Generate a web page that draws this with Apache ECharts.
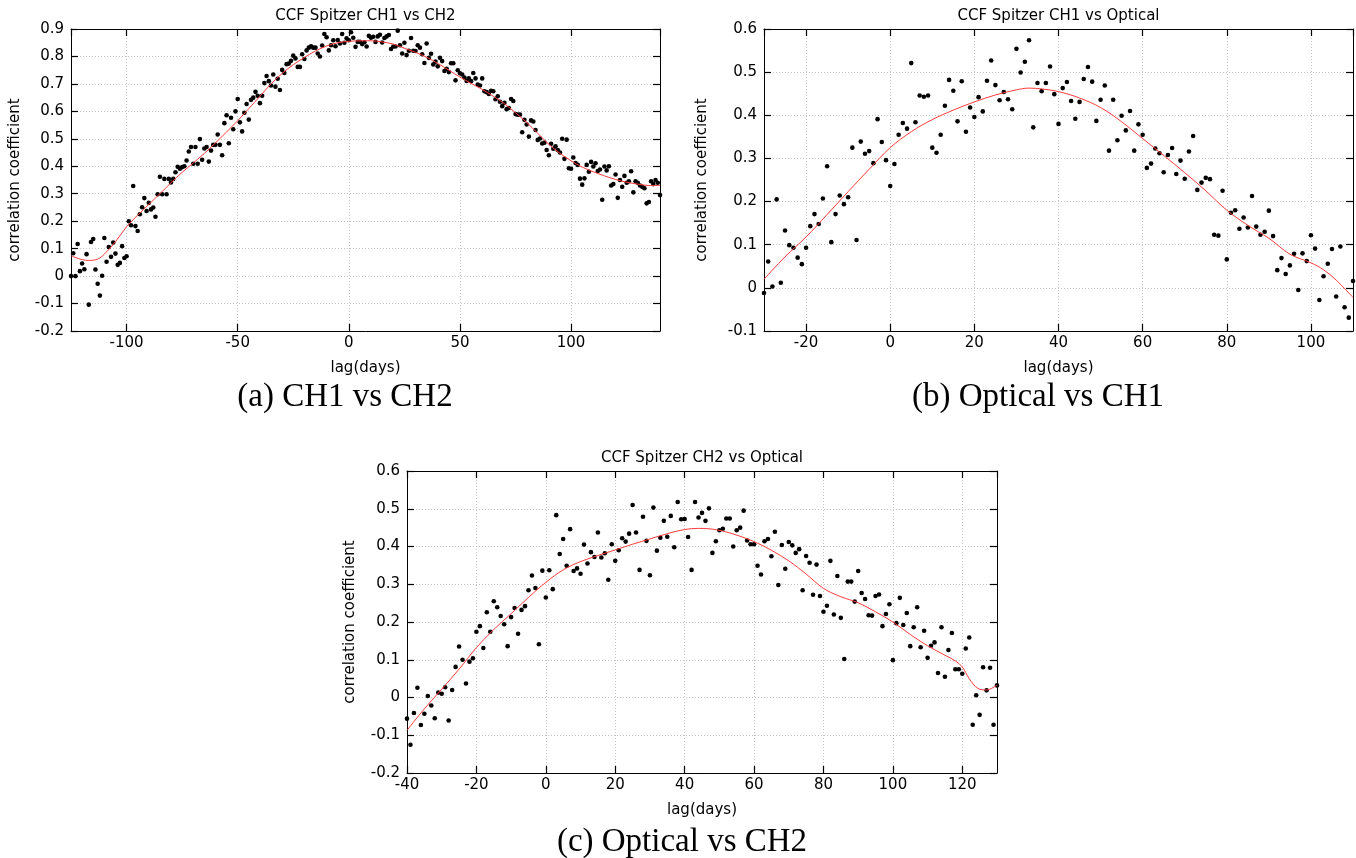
<!DOCTYPE html>
<html><head><meta charset="utf-8">
<script src="https://cdn.jsdelivr.net/npm/echarts@6/dist/echarts.min.js"></script>
<style>html,body{margin:0;padding:0;background:#fff}#c{width:1356px;height:858px}</style>
</head><body><div id="c"></div>
<script>
// ---------- Panel (a): CCF Spitzer CH1 vs CH2 ----------
const lagStartA = -125;
const ccfA = [
 0.0,0.083,0.0,0.117,0.018,0.046,0.025,0.080,-0.104,0.124,
 0.135,0.024,-0.028,-0.071,0.001,0.139,0.052,0.106,0.070,0.122,
 0.082,0.041,0.048,0.109,0.066,0.072,0.200,0.185,0.328,0.182,
 0.164,0.225,0.251,0.284,0.237,0.267,0.243,0.250,0.216,0.298,
 0.362,0.298,0.354,0.298,0.354,0.341,0.354,0.378,0.398,0.391,
 0.397,0.400,0.421,0.454,0.470,0.409,0.470,0.409,0.499,0.424,
 0.465,0.470,0.417,0.457,0.478,0.478,0.516,0.478,0.440,0.557,
 0.586,0.484,0.577,0.535,0.600,0.645,0.560,0.527,0.595,0.627,
 0.570,0.642,0.650,0.671,0.657,0.630,0.657,0.703,0.729,0.710,
 0.694,0.734,0.690,0.719,0.678,0.751,0.740,0.772,0.774,0.784,
 0.803,0.793,0.762,0.762,0.808,0.791,0.822,0.832,0.837,0.832,
 0.832,0.811,0.800,0.840,0.882,0.870,0.822,0.841,0.859,0.837,
 0.860,0.847,0.882,0.850,0.866,0.859,0.888,0.868,0.835,0.853,
 0.853,0.845,0.852,0.836,0.875,0.868,0.872,0.853,0.873,0.879,
 0.851,0.867,0.873,0.878,0.827,0.836,0.836,0.894,0.841,0.811,
 0.850,0.805,0.821,0.867,0.821,0.820,0.841,0.832,0.808,0.776,
 0.847,0.795,0.810,0.771,0.781,0.764,0.795,0.783,0.747,0.755,
 0.743,0.775,0.775,0.713,0.750,0.739,0.734,0.723,0.711,0.720,
 0.710,0.740,0.720,0.698,0.694,0.720,0.673,0.670,0.663,0.675,
 0.673,0.644,0.655,0.635,0.619,0.631,0.608,0.612,0.645,0.638,
 0.590,0.588,0.588,0.524,0.569,0.552,0.508,0.567,0.563,0.532,
 0.496,0.501,0.483,0.486,0.459,0.440,0.482,0.464,0.473,0.459,
 0.450,0.500,0.427,0.497,0.393,0.391,0.432,0.412,0.405,0.355,
 0.333,0.356,0.405,0.380,0.416,0.399,0.411,0.383,0.388,0.278,
 0.399,0.385,0.400,0.330,0.335,0.370,0.285,0.350,0.325,0.365,
 0.340,0.345,0.382,0.305,0.345,0.340,0.330,0.325,0.320,0.265,
 0.270,0.345,0.335,0.350,0.340,0.295
];
const fitLagA = [-125,-120,-117,-113,-110,-105,-100,-95,-90,-85,-80,-75,-70,-65,-60,-55,-50,-45,-40,-35,-30,-25,-20,-15,-10,-5,0,5,10,15,20,25,30,35,40,45,50,55,60,65,70,75,80,85,90,95,100,105,110,115,120,125,130,135,140];
const fitA = [0.074,0.060,0.057,0.062,0.080,0.125,0.180,0.222,0.261,0.300,0.340,0.378,0.412,0.447,0.485,0.525,0.566,0.610,0.655,0.700,0.738,0.770,0.796,0.820,0.838,0.850,0.855,0.857,0.857,0.853,0.845,0.830,0.815,0.797,0.775,0.750,0.725,0.702,0.680,0.655,0.628,0.595,0.560,0.520,0.480,0.447,0.420,0.397,0.380,0.365,0.352,0.342,0.335,0.330,0.330];

// ---------- Panel (b): CCF Spitzer CH1 vs Optical ----------
const lagStartB = -30;
const ccfB = [
 -0.012,0.061,0.003,0.205,0.012,0.133,0.099,0.093,0.070,0.055,
 0.093,0.143,0.171,0.148,0.207,0.282,0.106,0.171,0.214,0.194,
 0.210,0.325,0.111,0.339,0.311,0.317,0.289,0.391,0.338,0.296,
 0.236,0.287,0.355,0.382,0.369,0.521,0.384,0.446,0.443,0.446,
 0.325,0.313,0.355,0.422,0.482,0.457,0.386,0.479,0.362,0.418,
 0.396,0.442,0.409,0.480,0.527,0.470,0.435,0.454,0.437,0.414,
 0.554,0.499,0.524,0.574,0.372,0.475,0.456,0.475,0.513,0.449,
 0.380,0.463,0.477,0.433,0.392,0.431,0.484,0.512,0.478,0.387,
 0.436,0.469,0.318,0.436,0.342,0.399,0.365,0.410,0.318,0.379,
 0.355,0.278,0.288,0.323,0.312,0.268,0.308,0.324,0.264,0.295,
 0.253,0.316,0.352,0.227,0.244,0.255,0.252,0.123,0.121,0.225,
 0.066,0.174,0.180,0.137,0.163,0.140,0.213,0.142,0.123,0.130,
 0.179,0.120,0.041,0.069,0.032,0.052,0.079,-0.005,0.080,0.062,
 0.122,0.091,-0.028,0.027,0.056,0.090,-0.020,0.096,-0.045,-0.069,
 0.016
];
const fitLagB = [-30,-25,-20,-15,-10,-5,0,5,10,15,20,25,30,33,36,40,45,50,55,60,65,70,75,80,85,90,95,100,103,106,110];
const fitB = [0.020,0.072,0.118,0.170,0.223,0.275,0.325,0.362,0.390,0.412,0.431,0.447,0.459,0.463,0.461,0.455,0.440,0.418,0.385,0.346,0.307,0.267,0.225,0.180,0.145,0.115,0.078,0.058,0.042,0.018,-0.022];

// ---------- Panel (c): CCF Spitzer CH2 vs Optical ----------
const lagStartC = -40;
const ccfC = [
 -0.056,-0.125,-0.041,0.026,-0.073,-0.043,0.004,-0.021,-0.055,0.013,
 0.010,0.027,-0.061,0.020,0.081,0.135,0.100,0.037,0.095,0.104,
 0.174,0.189,0.131,0.226,0.174,0.255,0.239,0.216,0.194,0.136,
 0.213,0.237,0.169,0.232,0.242,0.284,0.323,0.290,0.141,0.336,
 0.265,0.337,0.287,0.483,0.380,0.420,0.349,0.446,0.335,0.342,
 0.328,0.405,0.355,0.385,0.372,0.437,0.371,0.382,0.312,0.406,
 0.362,0.390,0.422,0.413,0.434,0.510,0.437,0.338,0.479,0.415,
 0.324,0.503,0.389,0.423,0.468,0.426,0.481,0.398,0.518,0.472,
 0.473,0.425,0.338,0.518,0.477,0.489,0.468,0.501,0.383,0.414,
 0.443,0.447,0.474,0.474,0.400,0.443,0.450,0.495,0.416,0.406,
 0.406,0.349,0.326,0.414,0.420,0.374,0.439,0.298,0.404,0.341,
 0.412,0.403,0.383,0.393,0.284,0.375,0.357,0.272,0.352,0.269,
 0.227,0.243,0.362,0.220,0.322,0.211,0.102,0.307,0.307,0.254,
 0.335,0.277,0.261,0.218,0.217,0.269,0.273,0.189,0.221,0.247,
 0.099,0.197,0.264,0.192,0.224,0.136,0.186,0.239,0.133,0.177,
 0.105,0.137,0.146,0.065,0.186,0.055,0.126,0.171,0.075,0.075,
 0.063,0.130,0.159,-0.072,0.006,-0.046,0.080,0.019,0.079,-0.072,
 0.032
];
const fitLagC = [-40,-35,-30,-25,-20,-15,-10,-5,0,5,10,15,20,25,30,35,40,44,48,53,60,65,70,75,80,85,90,95,100,105,110,115,118,120,122,124.5,127,130];
const fitC = [-0.087,-0.030,0.022,0.075,0.132,0.180,0.222,0.265,0.305,0.338,0.360,0.376,0.391,0.406,0.420,0.434,0.445,0.448,0.446,0.436,0.413,0.390,0.362,0.327,0.289,0.267,0.251,0.227,0.200,0.167,0.137,0.112,0.097,0.081,0.050,0.024,0.020,0.033];

// ---------- Text ----------
const titles = ['CCF Spitzer CH1 vs CH2','CCF Spitzer CH1 vs Optical','CCF Spitzer CH2 vs Optical'];
const captions = ['(a) CH1 vs CH2','(b) Optical vs CH1','(c) Optical vs CH2'];
const xName = 'lag(days)';
const yName = 'correlation coefficient';

function pairs(start, ys){ return ys.map((v,i)=>[start+i, v]); }
function zip(xs, ys){ return xs.map((x,i)=>[x, ys[i]]); }

const panels = [
  {rect:{left:71,top:29,width:589,height:302}, xMin:-125, xMax:140, xSplit:5, yMin:-0.2, yMax:0.9,
   pts:pairs(lagStartA, ccfA), fit:zip(fitLagA, fitA), showMinX:false, yNameX:15, capX:345, capY:397},
  {rect:{left:764,top:29,width:589,height:302}, xMin:-30, xMax:110, xSplit:7, yMin:-0.1, yMax:0.6,
   pts:pairs(lagStartB, ccfB), fit:zip(fitLagB, fitB), showMinX:false, yNameX:702, capX:1038, capY:397},
  {rect:{left:407,top:471,width:590,height:302}, xMin:-40, xMax:130, xSplit:8, yMin:-0.2, yMax:0.6,
   pts:pairs(lagStartC, ccfC), fit:zip(fitLagC, fitC), showMinX:true, yNameX:350, capX:682, capY:842}
];

const FONT = '"DejaVu Sans", sans-serif';
const grid=[], xAxis=[], yAxis=[], series=[], graphic=[];
const dotted = {type:[1,2], color:'#c4c4c4', width:1};
panels.forEach((p,i)=>{
  grid.push(Object.assign({containLabel:false, show:false}, p.rect));
  const baseX = {gridIndex:i, type:'value', min:p.xMin, max:p.xMax, splitNumber:p.xSplit,
    axisLine:{show:true, onZero:false, lineStyle:{color:'#000', width:1}},
    axisTick:{show:true, inside:true, length:7, lineStyle:{color:'#000', width:1.2}}};
  xAxis.push(Object.assign({}, baseX, {position:'bottom',
    axisLabel:{show:true, color:'#000', fontFamily:FONT, fontSize:15, margin:5, showMinLabel:p.showMinX, showMaxLabel:false},
    splitLine:{show:true, lineStyle:dotted}}));
  xAxis.push(Object.assign({}, baseX, {position:'top', axisLabel:{show:false}, splitLine:{show:false}}));
  const baseY = {gridIndex:i, type:'value', min:p.yMin, max:p.yMax, interval:0.1,
    axisLine:{show:true, onZero:false, lineStyle:{color:'#000', width:1}},
    axisTick:{show:true, inside:true, length:7, lineStyle:{color:'#000', width:1.2}}};
  yAxis.push(Object.assign({}, baseY, {position:'left',
    axisLabel:{show:true, color:'#000', fontFamily:FONT, fontSize:15, margin:7,
      formatter:v=>String(Math.round(v*10)/10)},
    splitLine:{show:true, lineStyle:dotted}}));
  yAxis.push(Object.assign({}, baseY, {position:'right', axisLabel:{show:false}, splitLine:{show:false}}));
  series.push({type:'scatter', xAxisIndex:2*i, yAxisIndex:2*i, data:p.pts, symbol:'circle', symbolSize:4.6,
    itemStyle:{color:'#000', opacity:1}, silent:true, z:2});
  series.push({type:'line', xAxisIndex:2*i, yAxisIndex:2*i, data:p.fit, smooth:0.35, showSymbol:false, symbol:'none',
    lineStyle:{color:'#ff3a3a', width:1}, silent:true, z:3});
  const cx = p.rect.left + p.rect.width/2;
  const cy = p.rect.top + p.rect.height/2;
  graphic.push({type:'text', x:cx, y:p.rect.top-13, style:{text:titles[i], font:'15px '+FONT, fill:'#000', textAlign:'center', textVerticalAlign:'middle'}});
  graphic.push({type:'text', x:cx, y:p.rect.top+p.rect.height+37, style:{text:xName, font:'15px '+FONT, fill:'#000', textAlign:'center', textVerticalAlign:'middle'}});
  graphic.push({type:'text', x:p.yNameX, y:cy, rotation:Math.PI/2, style:{text:yName, font:'15px '+FONT, fill:'#000', textAlign:'center', textVerticalAlign:'middle'}});
  graphic.push({type:'text', x:p.capX, y:p.capY, style:{text:captions[i], font:'33px "Liberation Serif", serif', fill:'#000', textAlign:'center', textVerticalAlign:'middle'}});
});

const chart = echarts.init(document.getElementById('c'), null, {renderer:'canvas'});
chart.setOption({animation:false, backgroundColor:'#fff', grid, xAxis, yAxis, series, graphic});
</script>
</body></html>
